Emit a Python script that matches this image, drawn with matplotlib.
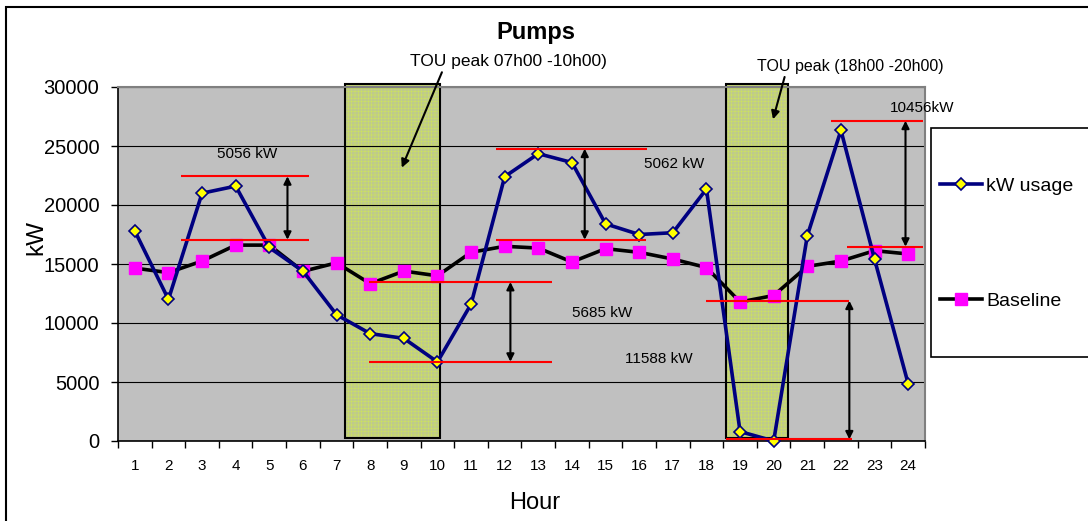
import matplotlib
matplotlib.use("Agg")
import matplotlib.pyplot as plt
from matplotlib.patches import Rectangle
from matplotlib.lines import Line2D

plt.rcParams['font.family'] = ['Liberation Sans', 'DejaVu Sans']
plt.rcParams['hatch.linewidth'] = 0.5

# Hourly pump demand
hours = list(range(1, 25))
kw_usage = [17800, 12000, 21000, 21600, 16400, 14400, 10700, 9100, 8700, 6700,
            11600, 22400, 24350, 23600, 18400, 17500, 17650, 21350,
            800, 0, 17400, 26330, 15400, 4850]
baseline = [14650, 14270, 15250, 16600, 16600, 14380, 15100, 13330, 14400, 14000,
            15990, 16500, 16350, 15170, 16300, 15990, 15420, 14700,
            11780, 12330, 14800, 15250, 16130, 15850]

# Time-of-use peak windows (x extents in hour units)
tou_windows = [(7.26, 10.08), (18.59, 20.43)]
tou_labels = ["TOU peak 07h00 -10h00)", "TOU peak (18h00 -20h00)"]

# Shift comparison markers: (x_start, x_end, upper level, lower level, arrow x, label, label x, label y)
shift_levels = [
    ((2.38, 6.18), (2.38, 6.18), 22430, 17060, 5.54, "5056 kW", 4.34, 24300),
    ((11.74, 16.24), (11.74, 16.2), 24770, 17060, 14.38, "5062 kW", 17.05, 23450),
    ((7.95, 13.42), (7.95, 13.42), 13475, 6720, 12.17, "5685 kW", 14.9, 10870),
    ((18.0, 22.24), (18.57, 22.33), 11890, 140, 22.25, "11588 kW", 16.58, 6950),
    ((21.7, 24.45), (22.18, 24.45), 27140, 16470, 23.92, "10456kW", 24.42, 28200),
]

W, H = 1088, 521
fig = plt.figure(figsize=(W / 100, H / 100), dpi=100)
ax = fig.add_axes([118 / W, 1 - 441 / H, (925 - 118) / W, (441 - 87) / H])
ax.set_facecolor('#c0c0c0')

ax.set_xlim(0.5, 24.5)
ax.set_ylim(0, 30000)
ax.set_yticks(range(0, 30001, 5000))
ax.set_xticks([h - 0.5 for h in hours] + [24.5])
ax.set_xticklabels([])
ax.set_xticks(hours, minor=True)
ax.set_xticklabels([str(h) for h in hours], minor=True, fontsize=11)
ax.tick_params(axis='x', which='major', direction='out', length=5, width=1, color='black')
ax.tick_params(axis='x', which='minor', length=0, pad=13)
ax.tick_params(axis='y', direction='out', length=5, width=1, labelsize=14.5, pad=8.5)

ax.set_axisbelow(True)
ax.yaxis.grid(True, color='black', lw=0.8)
for side in ('left', 'bottom'):
    ax.spines[side].set_color('black')
    ax.spines[side].set_linewidth(1.2)
for side in ('top', 'right'):
    ax.spines[side].set_color('#808080')
    ax.spines[side].set_linewidth(1.5)

# TOU peak windows: meshed fill plus black outline
for x0, x1 in tou_windows:
    ax.add_patch(Rectangle((x0, 280), x1 - x0, 30270 - 280, facecolor='#bec98e',
                           edgecolor='#cade66', lw=0, hatch='+++++', zorder=0.3,
                           clip_on=False))
    ax.add_patch(Rectangle((x0, 280), x1 - x0, 30270 - 280, fill=False,
                           edgecolor='black', lw=1.5, zorder=0.6, clip_on=False))

# Series
ax.plot(hours, kw_usage, color='#000080', lw=2.6, marker='D', markersize=6,
        markerfacecolor='#ffff00', markeredgecolor='#000080', markeredgewidth=1.2,
        zorder=4, clip_on=False)
ax.plot(hours, baseline, color='black', lw=2.6, marker='s', markersize=8.5,
        markerfacecolor='#ff00ff', markeredgecolor='#ff00ff', zorder=3, clip_on=False)

# Shift levels, arrows and labels
for (ux, lx, hi, lo, axx, lab, tx, ty) in shift_levels:
    ax.hlines(hi, ux[0], ux[1], color='red', lw=1.5, zorder=5, clip_on=False)
    ax.hlines(lo, lx[0], lx[1], color='red', lw=1.5, zorder=5, clip_on=False)
    ax.annotate('', xy=(axx, hi), xytext=(axx, lo),
                arrowprops=dict(arrowstyle='<|-|>', color='black', lw=1.5,
                                mutation_scale=11, shrinkA=0, shrinkB=0),
                zorder=6)
    ax.text(tx, ty, lab, ha='center', va='center', fontsize=11, zorder=7,
            clip_on=False)

# TOU callouts
ax.annotate(tou_labels[0], xy=(8.94, 23160), xytext=(12.1, 32120),
            ha='center', va='center', fontsize=12.5, annotation_clip=False,
            arrowprops=dict(arrowstyle='-|>', color='black', lw=1.5,
                            mutation_scale=12, shrinkA=0, shrinkB=0,
                            relpos=(0.17, 0.0)))
ax.annotate(tou_labels[1], xy=(19.98, 27260), xytext=(22.29, 31720),
            ha='center', va='center', fontsize=11.5, annotation_clip=False,
            arrowprops=dict(arrowstyle='-|>', color='black', lw=1.5,
                            mutation_scale=12, shrinkA=0, shrinkB=0,
                            relpos=(0.15, 0.0)))

# Titles and axis labels
fig.text(536 / W, 1 - 33 / H, 'Pumps', ha='center', va='center',
         fontsize=17, fontweight='bold')
fig.text(36 / W, 1 - 237.5 / H, 'kW', ha='center', va='center', rotation=90,
         fontsize=17.5)
fig.text(535 / W, 1 - 503 / H, 'Hour', ha='center', va='center', fontsize=17)

# Outer chart frame
fig.patches.append(Rectangle((6 / W, -0.2), 1.3, 1.2 - 7.3 / H, transform=fig.transFigure,
                             fill=False, edgecolor='black', lw=1.5))

# Legend box and entries
fig.patches.append(Rectangle((930.7 / W, 1 - 357.3 / H), 0.3, (357.3 - 128.3) / H,
                             transform=fig.transFigure, facecolor='white',
                             edgecolor='black', lw=1.2, zorder=5))
handles = [
    Line2D([], [], color='#000080', lw=2.6, marker='D', markersize=6,
           markerfacecolor='#ffff00', markeredgecolor='#000080', markeredgewidth=1.2),
    Line2D([], [], color='black', lw=2.6, marker='s', markersize=8.5,
           markerfacecolor='#ff00ff', markeredgecolor='#ff00ff'),
]
leg = fig.legend(handles, ['kW usage', 'Baseline'], loc='upper left',
                 bbox_to_anchor=(940 / W, 1 - 177.5 / H), frameon=False,
                 fontsize=14, handlelength=2.15, handletextpad=0.22,
                 labelspacing=5.0, borderaxespad=0, borderpad=0)
leg.set_zorder(6)

fig.savefig('out.png', dpi=100)
